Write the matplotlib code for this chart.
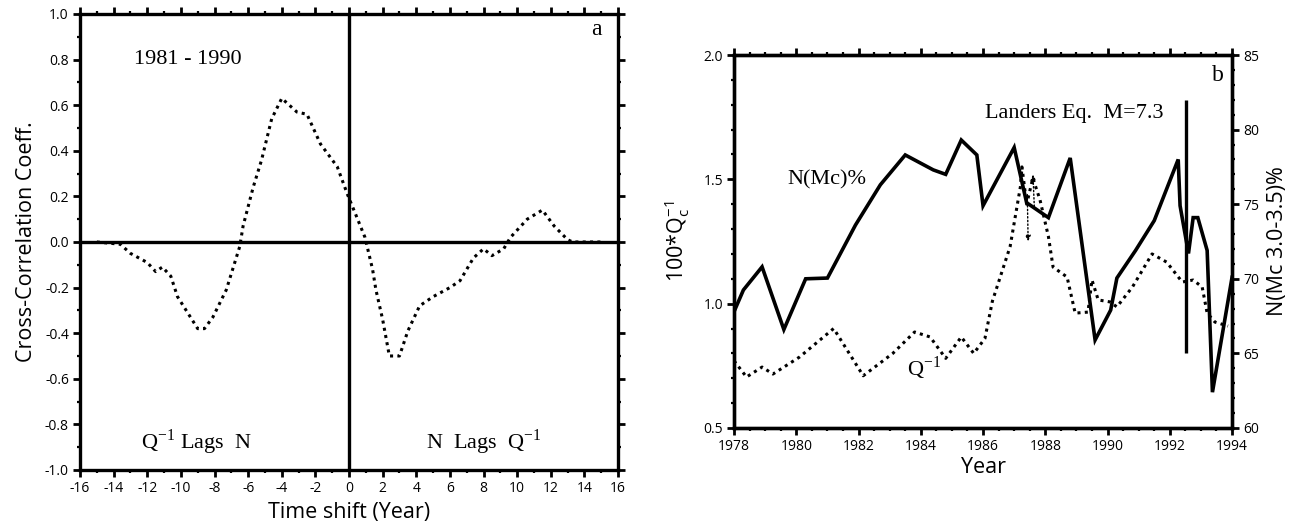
import numpy as np
import matplotlib
matplotlib.use("Agg")
import matplotlib.pyplot as plt
from matplotlib.ticker import MultipleLocator

plt.rcParams['font.family'] = ['Open Sans', 'DejaVu Sans']
plt.rcParams['mathtext.fontset'] = 'custom'

# panel a: cross-correlation vs time shift
lag = [-15.0, -13.6, -13.0, -12.0, -11.5, -11.1, -10.6, -10.2, -9.6, -9.0, -8.6, -8.1,
       -7.3, -6.5, -6.3, -5.7, -5.2, -4.6, -4.0, -3.1, -2.5, -1.7, -0.7, -0.1,
       0.4, 0.95, 1.4, 1.6, 2.0, 2.4, 3.0, 3.5, 4.2, 5.0, 6.0, 6.6, 7.4, 8.0,
       8.5, 9.2, 9.6, 10.6, 11.5, 12.2, 13.0, 13.3, 15.0]
ccf = [0.0, -0.01, -0.05, -0.09, -0.13, -0.11, -0.15, -0.24, -0.31, -0.38, -0.38, -0.33,
       -0.21, -0.02, 0.07, 0.24, 0.36, 0.54, 0.63, 0.57, 0.56, 0.43, 0.33, 0.21,
       0.12, 0.02, -0.12, -0.21, -0.34, -0.50, -0.50, -0.39, -0.28, -0.24, -0.20, -0.17,
       -0.07, -0.03, -0.06, -0.03, 0.02, 0.10, 0.14, 0.07, 0.01, 0.0, 0.0]
x_ticks_a = list(range(-16, 17, 2))
y_ticks_a = ["-1.0", "-0.8", "-0.6", "-0.4", "-0.2", "0.0", "0.2", "0.4", "0.6", "0.8", "1.0"]

# panel b: N(Mc)% (right axis) and 100*Qc^-1 (left axis)
yr_n = [1978.0, 1978.3, 1978.9, 1979.6, 1980.3, 1981.0, 1981.9, 1982.7, 1983.5, 1984.4,
        1984.8, 1985.3, 1985.8, 1986.0, 1987.0, 1987.4, 1988.1, 1988.8, 1989.6, 1990.1,
        1990.3, 1990.9, 1991.5, 1992.27, 1992.33, 1992.6, 1992.75, 1992.9, 1993.2,
        1993.37, 1994.0]
n_pct = [67.8, 69.25, 70.8, 66.6, 70.0, 70.05, 73.6, 76.3, 78.3, 77.3,
         77.0, 79.3, 78.3, 74.9, 78.8, 75.1, 74.1, 78.1, 65.9, 67.9,
         70.05, 71.9, 73.9, 78.0, 74.9, 71.7, 74.1, 74.1, 71.9,
         62.4, 70.1]

yr_q = [1978.0, 1978.4, 1978.9, 1979.25, 1980.1, 1981.2, 1982.15, 1983.1, 1983.8, 1984.3,
        1984.8, 1985.3, 1985.7, 1986.06, 1986.3, 1986.87, 1987.2, 1987.25, 1987.4, 1987.6,
        1987.83, 1988.1, 1988.25, 1988.7, 1988.96, 1989.37, 1989.5, 1989.7, 1990.08, 1990.3,
        1990.8, 1991.43, 1991.9, 1992.4, 1992.75, 1993.04, 1993.2, 1993.45, 1993.87]
q_inv = [0.77, 0.705, 0.745, 0.717, 0.785, 0.90, 0.71, 0.80, 0.886, 0.866,
         0.78, 0.866, 0.80, 0.86, 1.01, 1.23, 1.47, 1.55, 1.40, 1.505,
         1.417, 1.27, 1.147, 1.107, 0.962, 0.966, 1.095, 1.015, 1.007, 0.987,
         1.067, 1.20, 1.167, 1.087, 1.095, 1.067, 0.962, 0.926, 0.91]

landers_yr = 1992.52
landers_span = [65.0, 82.0]

fig = plt.figure(figsize=(13.05, 5.31), dpi=100)
dotted = (0, (1.0, 1.4))
serif = 'Liberation Serif'


def style_axes(ax):
    for s in ax.spines.values():
        s.set_linewidth(2.4)
    ax.tick_params(which='major', direction='out', length=5, width=2.0, labelsize=10,
                   top=True, right=True, pad=3)
    ax.tick_params(which='minor', direction='out', length=2.5, width=1.6,
                   top=True, right=True)


# ---- panel a ----
ax1 = fig.add_axes([0.0613, 0.1149, 0.4123, 0.8588])
ax1.plot(lag, ccf, color='black', linestyle=dotted, linewidth=2.2)
ax1.axhline(0, color='black', linewidth=2.4)
ax1.axvline(0, color='black', linewidth=2.4)
ax1.set_xlim(-16, 16)
ax1.set_ylim(-1.0, 1.0)
ax1.set_xticks(x_ticks_a)
ax1.set_xticklabels([str(v) for v in x_ticks_a])
ax1.xaxis.set_minor_locator(MultipleLocator(1))
ax1.set_yticks(np.linspace(-1.0, 1.0, len(y_ticks_a)))
ax1.set_yticklabels(y_ticks_a)
ax1.yaxis.set_minor_locator(MultipleLocator(0.1))
style_axes(ax1)
ax1.set_xlabel("Time shift (Year)", fontsize=15.5, labelpad=4)
ax1.set_ylabel("Cross-Correlation Coeff.", fontsize=15.5, labelpad=6)

ax1.text(-12.8, 0.80, "1981 - 1990", family=serif, fontsize=16, va='center')
ax1.text(15.0, 0.93, "a", family=serif, fontsize=17, ha='right', va='center')
ax1.text(-12.4, -0.88, r"Q$^{\mathregular{-1}}$ Lags  N", family=serif, fontsize=16,
         va='center')
ax1.text(4.6, -0.88, r"N  Lags  Q$^{\mathregular{-1}}$", family=serif, fontsize=16,
         va='center')

# ---- panel b ----
ax2 = fig.add_axes([0.5625, 0.194, 0.3816, 0.7024])
ax2.plot(yr_q, q_inv, color='black', linestyle=dotted, linewidth=2.2)
ax2.set_xlim(1978, 1994)
ax2.set_ylim(0.5, 2.0)
ax2.set_xticks(np.arange(1978, 1995, 2))
ax2.xaxis.set_minor_locator(MultipleLocator(0.5))
ax2.set_yticks([0.5, 1.0, 1.5, 2.0])
ax2.set_yticklabels(["0.5", "1.0", "1.5", "2.0"])
ax2.yaxis.set_minor_locator(MultipleLocator(0.1))
style_axes(ax2)
ax2.tick_params(right=False, which='both')
ax2.set_xlabel("Year", fontsize=15.5, labelpad=2)
ax2.set_ylabel(r"100*Q$_\mathregular{c}^{\mathregular{-1}}$", fontsize=15.5, labelpad=8)
ax2.annotate("", xy=(1987.45, 1.24), xytext=(1987.42, 1.45),
             arrowprops=dict(arrowstyle='-|>', color='black', lw=1.0, ls=':',
                             mutation_scale=8))
ax2.annotate("", xy=(1987.6, 1.53), xytext=(1987.65, 1.38),
             arrowprops=dict(arrowstyle='-|>', color='black', lw=1.0, ls=':',
                             mutation_scale=8))

ax3 = ax2.twinx()
ax3.plot(yr_n, n_pct, color='black', linewidth=2.6, solid_joinstyle='miter')
ax3.vlines(landers_yr, landers_span[0], landers_span[1], color='black', linewidth=2.4)
ax3.set_ylim(60, 85)
ax3.set_yticks(np.arange(60, 86, 5))
ax3.yaxis.set_minor_locator(MultipleLocator(1))
for s in ax3.spines.values():
    s.set_linewidth(2.4)
ax3.tick_params(which='major', direction='out', length=5, width=2.0, labelsize=10, pad=3)
ax3.tick_params(which='minor', direction='out', length=2.5, width=1.6)
ax3.set_ylabel("N(Mc 3.0-3.5)%", fontsize=15.5, labelpad=6)

ax3.text(1979.7, 76.6, "N(Mc)%", family=serif, fontsize=16, va='center')
ax3.text(1983.55, 64.0, r"Q$^{\mathregular{-1}}$", family=serif, fontsize=16, va='center')
ax3.text(1986.05, 81.1, "Landers Eq.  M=7.3", family=serif, fontsize=16, va='center')
ax3.text(1993.75, 83.6, "b", family=serif, fontsize=17, ha='right', va='center')

fig.savefig("out.png", dpi=100)
